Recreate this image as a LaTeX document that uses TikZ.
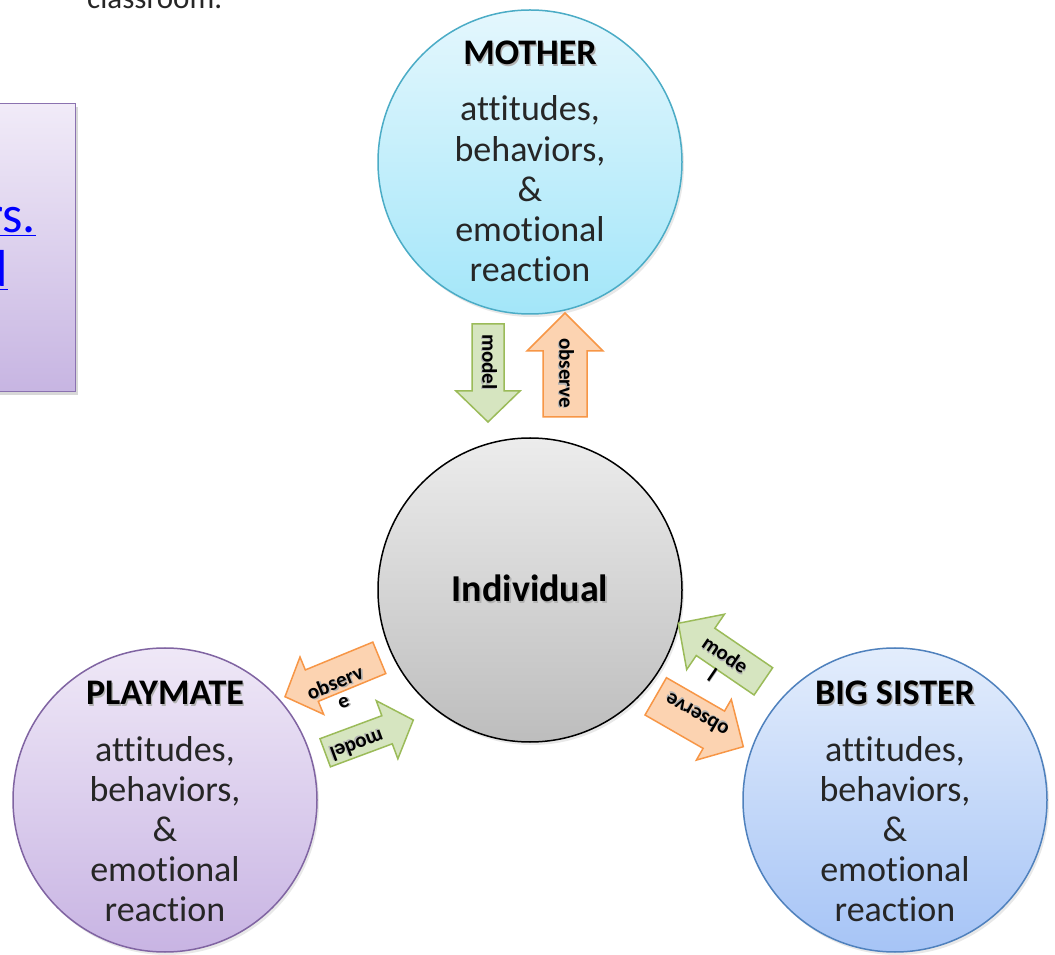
\documentclass[tikz,border=0pt]{standalone}
\usepackage{fontspec}
\setmainfont{Carlito}[Ligatures=NoCommon]
\usetikzlibrary{shadows}
\definecolor{motherT}{HTML}{E4F7FD}
\definecolor{motherBot}{HTML}{A3E6F9}
\definecolor{motherD}{HTML}{4BACC6}
\definecolor{playT}{HTML}{EFE8F7}
\definecolor{playBot}{HTML}{C8B4E3}
\definecolor{playD}{HTML}{8064A2}
\definecolor{sisT}{HTML}{E3EDFC}
\definecolor{sisBot}{HTML}{A6C4F6}
\definecolor{sisD}{HTML}{4F81BD}
\definecolor{indT}{HTML}{ECECEC}
\definecolor{indBot}{HTML}{BDBDBD}
\definecolor{grnF}{HTML}{D6E5C0}
\definecolor{grnD}{HTML}{9BBB59}
\definecolor{orgF}{HTML}{FCD3B1}
\definecolor{orgD}{HTML}{F79646}
\definecolor{boxT}{HTML}{F1EBF8}
\definecolor{boxBot}{HTML}{C7B5E2}
\definecolor{boxD}{HTML}{8B72B0}
\definecolor{txt}{HTML}{262626}
\newcommand\shd[1]{\leavevmode\rlap{\kern1.3pt\raisebox{-1.3pt}{\textcolor{black!30}{#1}}}#1}
% tip x, tip y, angle (tip->tail), length, shaft width, head width, head length
\newcommand\blockarrow[8]{%
  \draw[#1, shift={(#2,#3)}, rotate=#4] (0,0) -- (#8,#7/2) -- (#8,#6/2) -- (#5,#6/2)
    -- (#5,-#6/2) -- (#8,-#6/2) -- (#8,-#7/2) -- cycle;}
\begin{document}
\begin{tikzpicture}[x=1pt,y=1pt,
  bigcirc/.style={circle, minimum size=304pt, inner sep=0pt, line width=1.5pt,
    drop shadow={opacity=0.18, shadow xshift=2pt, shadow yshift=-3pt}},
  title/.style={font=\fontsize{36}{40}\selectfont\bfseries, inner sep=0pt, text=black},
  body/.style={font=\fontsize{36}{40}\selectfont, inner sep=0pt, text=txt},
  lab/.style={font=\fontsize{21}{26}\selectfont\bfseries, inner sep=0pt, text=black},
  grn/.style={fill=grnF, draw=grnD, line width=1.5pt, line join=miter},
  org/.style={fill=orgF, draw=orgD, line width=1.5pt, line join=miter},
]
\useasboundingbox (0,0) rectangle (1055,954);
\fill[white] (0,0) rectangle (1055,954);

% partial text at the top
\node[font=\fontsize{31}{36}\selectfont, text=txt, inner sep=0pt, anchor=base west] (cls) at (87,945) {classroom.};

% left box
\node[draw=boxD, line width=1.5pt, top color=boxT, bottom color=boxBot, inner sep=0pt,
  minimum width=96pt, minimum height=288pt, anchor=north east,
  drop shadow={opacity=0.3, shadow xshift=3pt, shadow yshift=-3pt}] (box) at (76,851) {};
\node[font=\fontsize{52}{56}\selectfont, text=blue, inner sep=0pt, anchor=base east] (box-l1) at (36,721) {\underline{ers.}};
\node[font=\fontsize{52}{56}\selectfont, text=blue, inner sep=0pt, anchor=base east] (box-l2) at (8,667) {\underline{ld}};

% circles
\node[bigcirc, draw=motherD, top color=motherT, bottom color=motherBot] (mother) at (530,792) {};
\node[bigcirc, draw=black, top color=indT, bottom color=indBot] (indiv) at (530,364) {};
\node[bigcirc, draw=playD, top color=playT, bottom color=playBot] (play) at (165,154) {};
\node[bigcirc, draw=sisD, top color=sisT, bottom color=sisBot] (sister) at (895,154) {};

% titles
\node[title, anchor=base] (mother-t) at (530,889) {\shd{MOTHER}};
\node[title, anchor=base] (play-t) at (165,249) {\shd{PLAYMATE}};
\node[title, anchor=base] (sister-t) at (895,249) {\shd{BIG SISTER}};
\node[title, font=\fontsize{38}{42}\selectfont\bfseries, anchor=base] (indiv-t) at (530,352) {\shd{Individual}};

% body texts
\foreach \nm/\cx/\ty in {mother/530/889, play/165/249, sister/895/249}{
  \foreach \txt [count=\i] in {{attitudes,},{behaviors,},{\&},{emotional},{reaction}}{
    \node[body, anchor=base] (\nm-l\i) at (\cx,{\ty-56-(\i-1)*40.2}) {\txt};
  }
}

% block arrows
\blockarrow{grn}{488}{532}{90}{98}{32}{64}{31}
\blockarrow{org}{565}{641}{-90}{104}{44}{76}{38}
\blockarrow{org}{285}{257.3}{22.4}{102}{34}{62}{29}
\blockarrow{grn}{413.3}{234}{200.4}{94}{30}{62}{28}
\blockarrow{grn}{678.3}{330.7}{-34.3}{103}{33}{67}{33}
\blockarrow{org}{743.3}{207.3}{150.1}{101}{43}{70}{34}

% arrow labels
\node[lab, rotate=-90] (lab-top-model) at (489,592) {\shd{model}};
\node[lab, rotate=-90] (lab-top-obs) at (566,581) {\shd{observe}};
\node[lab, rotate=22.4] (lab-left-obs1) at (335,271) {\shd{observ}};
\node[lab, rotate=22.4] (lab-left-obs2) at (344,251) {\shd{e}};
\node[lab, rotate=200.4] (lab-left-model) at (357,209) {\shd{model}};
\node[lab, rotate=-34.3] (lab-right-mode1) at (725,299) {\shd{mode}};
\node[lab, rotate=-34.3] (lab-right-mode2) at (712,279) {\shd{l}};
\node[lab, rotate=150.1] (lab-right-obs) at (697,239) {\shd{observe}};
\end{tikzpicture}
\end{document}
